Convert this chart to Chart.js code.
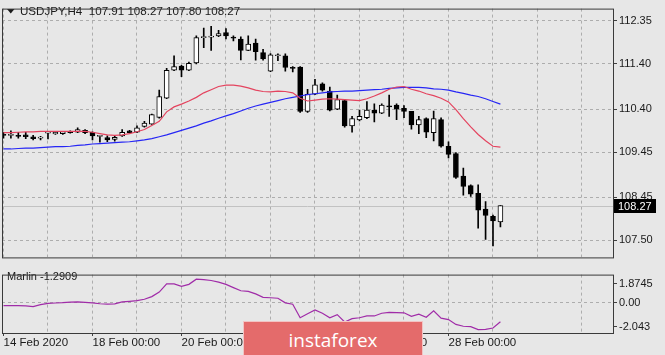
<!DOCTYPE html>
<html>
<head>
<meta charset="utf-8">
<script src="https://cdn.jsdelivr.net/npm/chart.js@4.4.0/dist/chart.umd.min.js"></script>
<style>
  html, body { margin: 0; padding: 0; background: #e7e7e7; }
  #wrap { position: relative; width: 665px; height: 355px; overflow: hidden; }
  #main { position: absolute; left: 0; top: 0; }
  #sub { position: absolute; left: 0; top: 266px; }
  #logo {
    position: absolute; left: 243px; top: 321px; width: 178px; height: 40px;
    background: #e46b6b; border: 1px solid #f2c4c4; color: #fff;
    font: 19px 'Open Sans', sans-serif; text-align: center; line-height: 36px;
  }
</style>
</head>
<body>
<div id="wrap">
  <canvas id="main" width="665" height="266"></canvas>
  <canvas id="sub" width="665" height="89"></canvas>
  <div id="logo">instaforex</div>
</div>
<script>
// USDJPY H4 bars
const symbol = 'USDJPY,H4';
const opens = [109.83, 109.82, 109.82, 109.83, 109.79, 109.76, 109.87, 109.85, 109.86, 109.91,
  109.89, 109.93, 109.89, 109.80, 109.77, 109.73, 109.81, 109.92, 109.89, 110.02,
  110.07, 110.22, 110.64, 111.26, 111.35, 111.26, 111.42, 111.98, 111.99, 112.02,
  112.09, 111.98, 111.95, 111.70, 111.86, 111.65, 111.24, 111.58, 111.58, 111.31,
  111.33, 110.35, 110.73, 110.96, 110.80, 110.40, 110.59, 110.03, 110.16, 110.21,
  110.38, 110.31, 110.46, 110.49, 110.42, 110.35, 110.05, 110.19, 109.88, 110.17,
  109.58, 109.42, 108.92, 108.71, 108.54, 108.19, 108.03, 107.91];
const highs = [109.89, 109.92, 109.89, 109.89, 109.82, 109.80, 109.90, 109.90, 109.91, 109.92,
  109.99, 109.95, 109.90, 109.82, 109.81, 109.81, 109.95, 109.93, 110.03, 110.13,
  110.29, 110.82, 111.30, 111.58, 111.37, 111.44, 112.02, 112.19, 112.23, 112.14,
  112.18, 112.02, 112.00, 112.02, 111.95, 111.72, 111.63, 111.62, 111.62, 111.34,
  111.34, 110.84, 111.06, 110.98, 110.89, 110.71, 110.61, 110.24, 110.38, 110.57,
  110.52, 110.52, 110.71, 110.52, 110.48, 110.35, 110.24, 110.21, 110.36, 110.21,
  109.68, 109.44, 109.10, 108.73, 108.73, 108.36, 108.06, 108.27];
const lows = [109.76, 109.76, 109.76, 109.75, 109.72, 109.72, 109.74, 109.84, 109.84, 109.87,
  109.88, 109.86, 109.72, 109.67, 109.68, 109.69, 109.80, 109.87, 109.88, 110.00,
  110.06, 110.20, 110.63, 111.25, 111.12, 111.25, 111.40, 111.76, 111.70, 112.00,
  111.95, 111.91, 111.49, 111.69, 111.48, 111.48, 111.23, 111.47, 111.24, 111.22,
  110.33, 110.33, 110.72, 110.80, 110.36, 110.39, 110.00, 109.89, 110.14, 110.19,
  110.12, 110.30, 110.24, 110.17, 110.21, 109.96, 109.86, 109.77, 109.70, 109.56,
  109.32, 108.87, 108.50, 108.47, 107.77, 107.52, 107.38, 107.80];
const closes = [109.82, 109.83, 109.80, 109.79, 109.75, 109.76, 109.88, 109.89, 109.90, 109.88,
  109.95, 109.88, 109.81, 109.81, 109.72, 109.78, 109.89, 109.88, 109.99, 110.09,
  110.28, 110.68, 111.26, 111.34, 111.26, 111.41, 111.98, 111.99, 112.01, 112.07,
  112.02, 111.97, 111.70, 111.84, 111.67, 111.51, 111.60, 111.59, 111.32, 111.30,
  110.35, 110.73, 110.94, 110.82, 110.38, 110.61, 110.03, 110.19, 110.24, 110.38,
  110.31, 110.49, 110.45, 110.40, 110.35, 110.05, 110.17, 109.89, 110.19, 109.58,
  109.40, 108.89, 108.69, 108.52, 108.17, 108.05, 107.93, 108.27];

// moving averages (red fast, blue slow)
const maFast = [109.88, 109.88, 109.89, 109.90, 109.90, 109.91, 109.91, 109.91, 109.91, 109.91,
  109.91, 109.91, 109.89, 109.86, 109.83, 109.82, 109.83, 109.86, 109.90, 109.95,
  110.04, 110.13, 110.34, 110.45, 110.51, 110.58, 110.66, 110.76, 110.83, 110.90,
  110.93, 110.93, 110.91, 110.87, 110.82, 110.79, 110.78, 110.80, 110.79, 110.76,
  110.64, 110.58, 110.60, 110.62, 110.63, 110.62, 110.61, 110.60, 110.59, 110.63,
  110.69, 110.76, 110.84, 110.89, 110.90, 110.84, 110.80, 110.74, 110.70, 110.64,
  110.56, 110.39, 110.19, 110.01, 109.84, 109.70, 109.58, 109.56];
const maSlow = [109.52, 109.52, 109.53, 109.54, 109.54, 109.55, 109.56, 109.57, 109.57, 109.58,
  109.60, 109.61, 109.63, 109.64, 109.65, 109.66, 109.67, 109.68, 109.70, 109.72,
  109.75, 109.79, 109.83, 109.88, 109.93, 109.98, 110.03, 110.09, 110.14, 110.20,
  110.25, 110.30, 110.36, 110.42, 110.47, 110.51, 110.55, 110.59, 110.63, 110.66,
  110.69, 110.72, 110.74, 110.76, 110.78, 110.79, 110.80, 110.80, 110.81, 110.82,
  110.83, 110.84, 110.86, 110.87, 110.88, 110.88, 110.88, 110.87, 110.85, 110.84,
  110.82, 110.78, 110.75, 110.71, 110.68, 110.63, 110.57, 110.51];

// Marlin oscillator (sub window)
const marlin = [-0.21, -0.21, -0.21, -0.23, -0.27, -0.14, -0.05, -0.03, -0.01, 0.03,
  0.04, 0.01, -0.02, -0.08, -0.11, -0.09, 0.04, 0.08, 0.13, 0.22,
  0.40, 0.70, 1.25, 1.25, 1.09, 1.22, 1.57, 1.54, 1.48, 1.37,
  1.22, 1.00, 0.79, 0.75, 0.58, 0.35, 0.32, 0.29, -0.02, -0.11,
  -1.02, -0.75, -0.49, -0.72, -1.02, -0.81, -1.30, -1.08, -1.02, -0.90,
  -0.90, -0.72, -0.66, -0.67, -0.69, -0.92, -0.78, -0.99, -0.55, -1.05,
  -1.14, -1.47, -1.59, -1.62, -1.81, -1.80, -1.71, -1.2909];

const dayLabels = ['14 Feb 2020', '18 Feb 00:00', '20 Feb 00:00', '24 Feb 00:00', '26 Feb 00:00', '28 Feb 00:00'];
const priceTicks = [107.50, 108.45, 109.45, 110.40, 111.40, 112.35];
const subTickText = ['1.8745', '0.00', '-2.043'];
const subMax = 1.8745, subMin = -2.043;

const barsPerDay = 6;
const xMin = -0.2, xMax = 82.18;
const gridTicks = [];
for (let i = 0; i <= 78; i += barsPerDay) gridTicks.push(i);

const gridColor = '#adadad';
const tickColor = '#404040';
const textColor = '#1a1a1a';
const clear = 'rgba(0,0,0,0)';
Chart.defaults.font.family = "'Liberation Sans', Arial, sans-serif";
Chart.defaults.color = textColor;

const last = closes.length - 1;

// frame round the plot area, like the terminal draws it
const frame = {
  id: 'frame',
  afterDraw(chart) {
    const {ctx, chartArea: a} = chart;
    ctx.save();
    ctx.strokeStyle = '#3a3a3a';
    ctx.lineWidth = 1;
    ctx.strokeRect(a.left + 0.5, a.top + 0.5, a.right - a.left, a.bottom - a.top);
    ctx.restore();
  }
};

// current price line, price box and header
const priceLine = {
  id: 'priceLine',
  beforeDatasetsDraw(chart) {
    const {ctx, chartArea: a} = chart;
    const y = Math.round(chart.scales.y.getPixelForValue(closes[last])) + 0.5;
    ctx.save();
    ctx.strokeStyle = '#c2c2c2';
    ctx.beginPath();
    ctx.moveTo(a.left, y);
    ctx.lineTo(a.right, y);
    ctx.stroke();
    ctx.restore();
  },
  afterDraw(chart) {
    const {ctx, chartArea: a} = chart;
    const y = Math.round(chart.scales.y.getPixelForValue(closes[last]));
    ctx.save();
    ctx.fillStyle = '#000';
    ctx.fillRect(a.right + 1, y - 7, 42, 14);
    ctx.fillStyle = '#fff';
    ctx.font = "11px 'Liberation Sans', Arial";
    ctx.textBaseline = 'middle';
    ctx.fillText(closes[last].toFixed(2), a.right + 5, y + 0.5);

    // header
    ctx.fillStyle = textColor;
    ctx.beginPath();
    ctx.moveTo(7, 9);
    ctx.lineTo(14.5, 9);
    ctx.lineTo(10.75, 13.5);
    ctx.closePath();
    ctx.fill();
    ctx.font = "11.6px 'Liberation Sans', Arial";
    const ohlc = [opens[last], highs[last], lows[last], closes[last]].map(v => v.toFixed(2)).join(' ');
    ctx.fillText(symbol + '  ' + ohlc, 20, 12);
    ctx.restore();
  }
};

const subTitle = {
  id: 'subTitle',
  afterDraw(chart) {
    const {ctx} = chart;
    ctx.save();
    ctx.fillStyle = textColor;
    ctx.font = "11px 'Liberation Sans', Arial";
    ctx.textBaseline = 'middle';
    ctx.fillText('Marlin ' + marlin[last].toFixed(4), 7, 11);
    ctx.restore();
  }
};

const xy = arr => arr.map((v, i) => ({x: i, y: v}));

new Chart(document.getElementById('main'), {
  type: 'bar',
  data: {
    datasets: [
      {
        type: 'line', data: xy(maFast), borderColor: '#e4445f', borderWidth: 1.2,
        pointRadius: 0, order: 0
      },
      {
        type: 'line', data: xy(maSlow), borderColor: '#2626f5', borderWidth: 1.2,
        pointRadius: 0, order: 0
      },
      {
        data: opens.map((o, i) => ({x: i, y: [o, closes[i]]})),
        backgroundColor: opens.map((o, i) => closes[i] >= o ? '#ffffff' : '#000000'),
        borderColor: '#000', borderWidth: 1, borderSkipped: false,
        barThickness: 5, minBarLength: 1, grouped: false, order: 1
      },
      {
        data: lows.map((l, i) => ({x: i, y: [l, highs[i]]})),
        backgroundColor: '#000', barThickness: 1, grouped: false, order: 2
      }
    ]
  },
  options: {
    responsive: false,
    animation: false,
    events: [],
    layout: {padding: {left: 2, top: 2, right: 0, bottom: 1}},
    plugins: {legend: {display: false}, tooltip: {enabled: false}},
    scales: {
      x: {
        type: 'linear', min: xMin, max: xMax, offset: false,
        afterBuildTicks: s => { s.ticks = gridTicks.map(v => ({value: v})); },
        afterFit: s => { s.height = 0; },
        ticks: {display: false},
        grid: {color: gridColor, drawTicks: false, offset: false},
        border: {display: false, dash: [3, 3]}
      },
      y: {
        position: 'right', min: 107.124, max: 112.622,
        afterBuildTicks: s => { s.ticks = priceTicks.map(v => ({value: v})); },
        afterFit: s => { s.width = 52; },
        ticks: {callback: v => v.toFixed(2), font: {size: 11}, color: textColor, padding: 2},
        grid: {color: gridColor, tickColor: tickColor, tickLength: 4, tickBorderDash: []},
        border: {display: false, dash: [3, 3]}
      }
    }
  },
  plugins: [priceLine, frame]
});

// labels of the sub window sit just inside its top and bottom
const subTickPos = [1.272, 0, -1.621];

new Chart(document.getElementById('sub'), {
  type: 'line',
  data: {
    datasets: [{data: xy(marlin), borderColor: '#a02ca8', borderWidth: 1.2, pointRadius: 0}]
  },
  options: {
    responsive: false,
    animation: false,
    events: [],
    layout: {padding: {left: 2, top: 2, right: 0, bottom: 0}},
    plugins: {legend: {display: false}, tooltip: {enabled: false}},
    scales: {
      x: {
        type: 'linear', min: xMin, max: xMax,
        afterBuildTicks: s => { s.ticks = gridTicks.map(v => ({value: v})); },
        afterFit: s => { s.height = 22; },
        ticks: {
          autoSkip: false, maxRotation: 0, align: 'start', padding: 0,
          font: {size: 11.5}, color: textColor,
          callback: v => v % (2 * barsPerDay) === 0 ? dayLabels[v / (2 * barsPerDay)] : ''
        },
        grid: {
          color: c => c.tick && c.tick.value === 0 ? clear : gridColor,
          tickColor: c => c.tick && c.tick.value % (2 * barsPerDay) === 0 ? tickColor : clear,
          tickLength: 3, tickBorderDash: []
        },
        border: {display: false, dash: [3, 3]}
      },
      y: {
        position: 'right', min: subMin, max: subMax,
        afterBuildTicks: s => { s.ticks = subTickPos.map(v => ({value: v})); },
        afterFit: s => { s.width = 52; },
        ticks: {callback: (v, i) => subTickText[i], font: {size: 11}, color: textColor, padding: 2},
        grid: {
          color: c => c.tick && c.tick.value === 0 ? gridColor : clear,
          tickColor: tickColor, tickLength: 4, tickBorderDash: []
        },
        border: {display: false, dash: [3, 3]}
      }
    }
  },
  plugins: [subTitle, frame]
});
</script>
</body>
</html>
